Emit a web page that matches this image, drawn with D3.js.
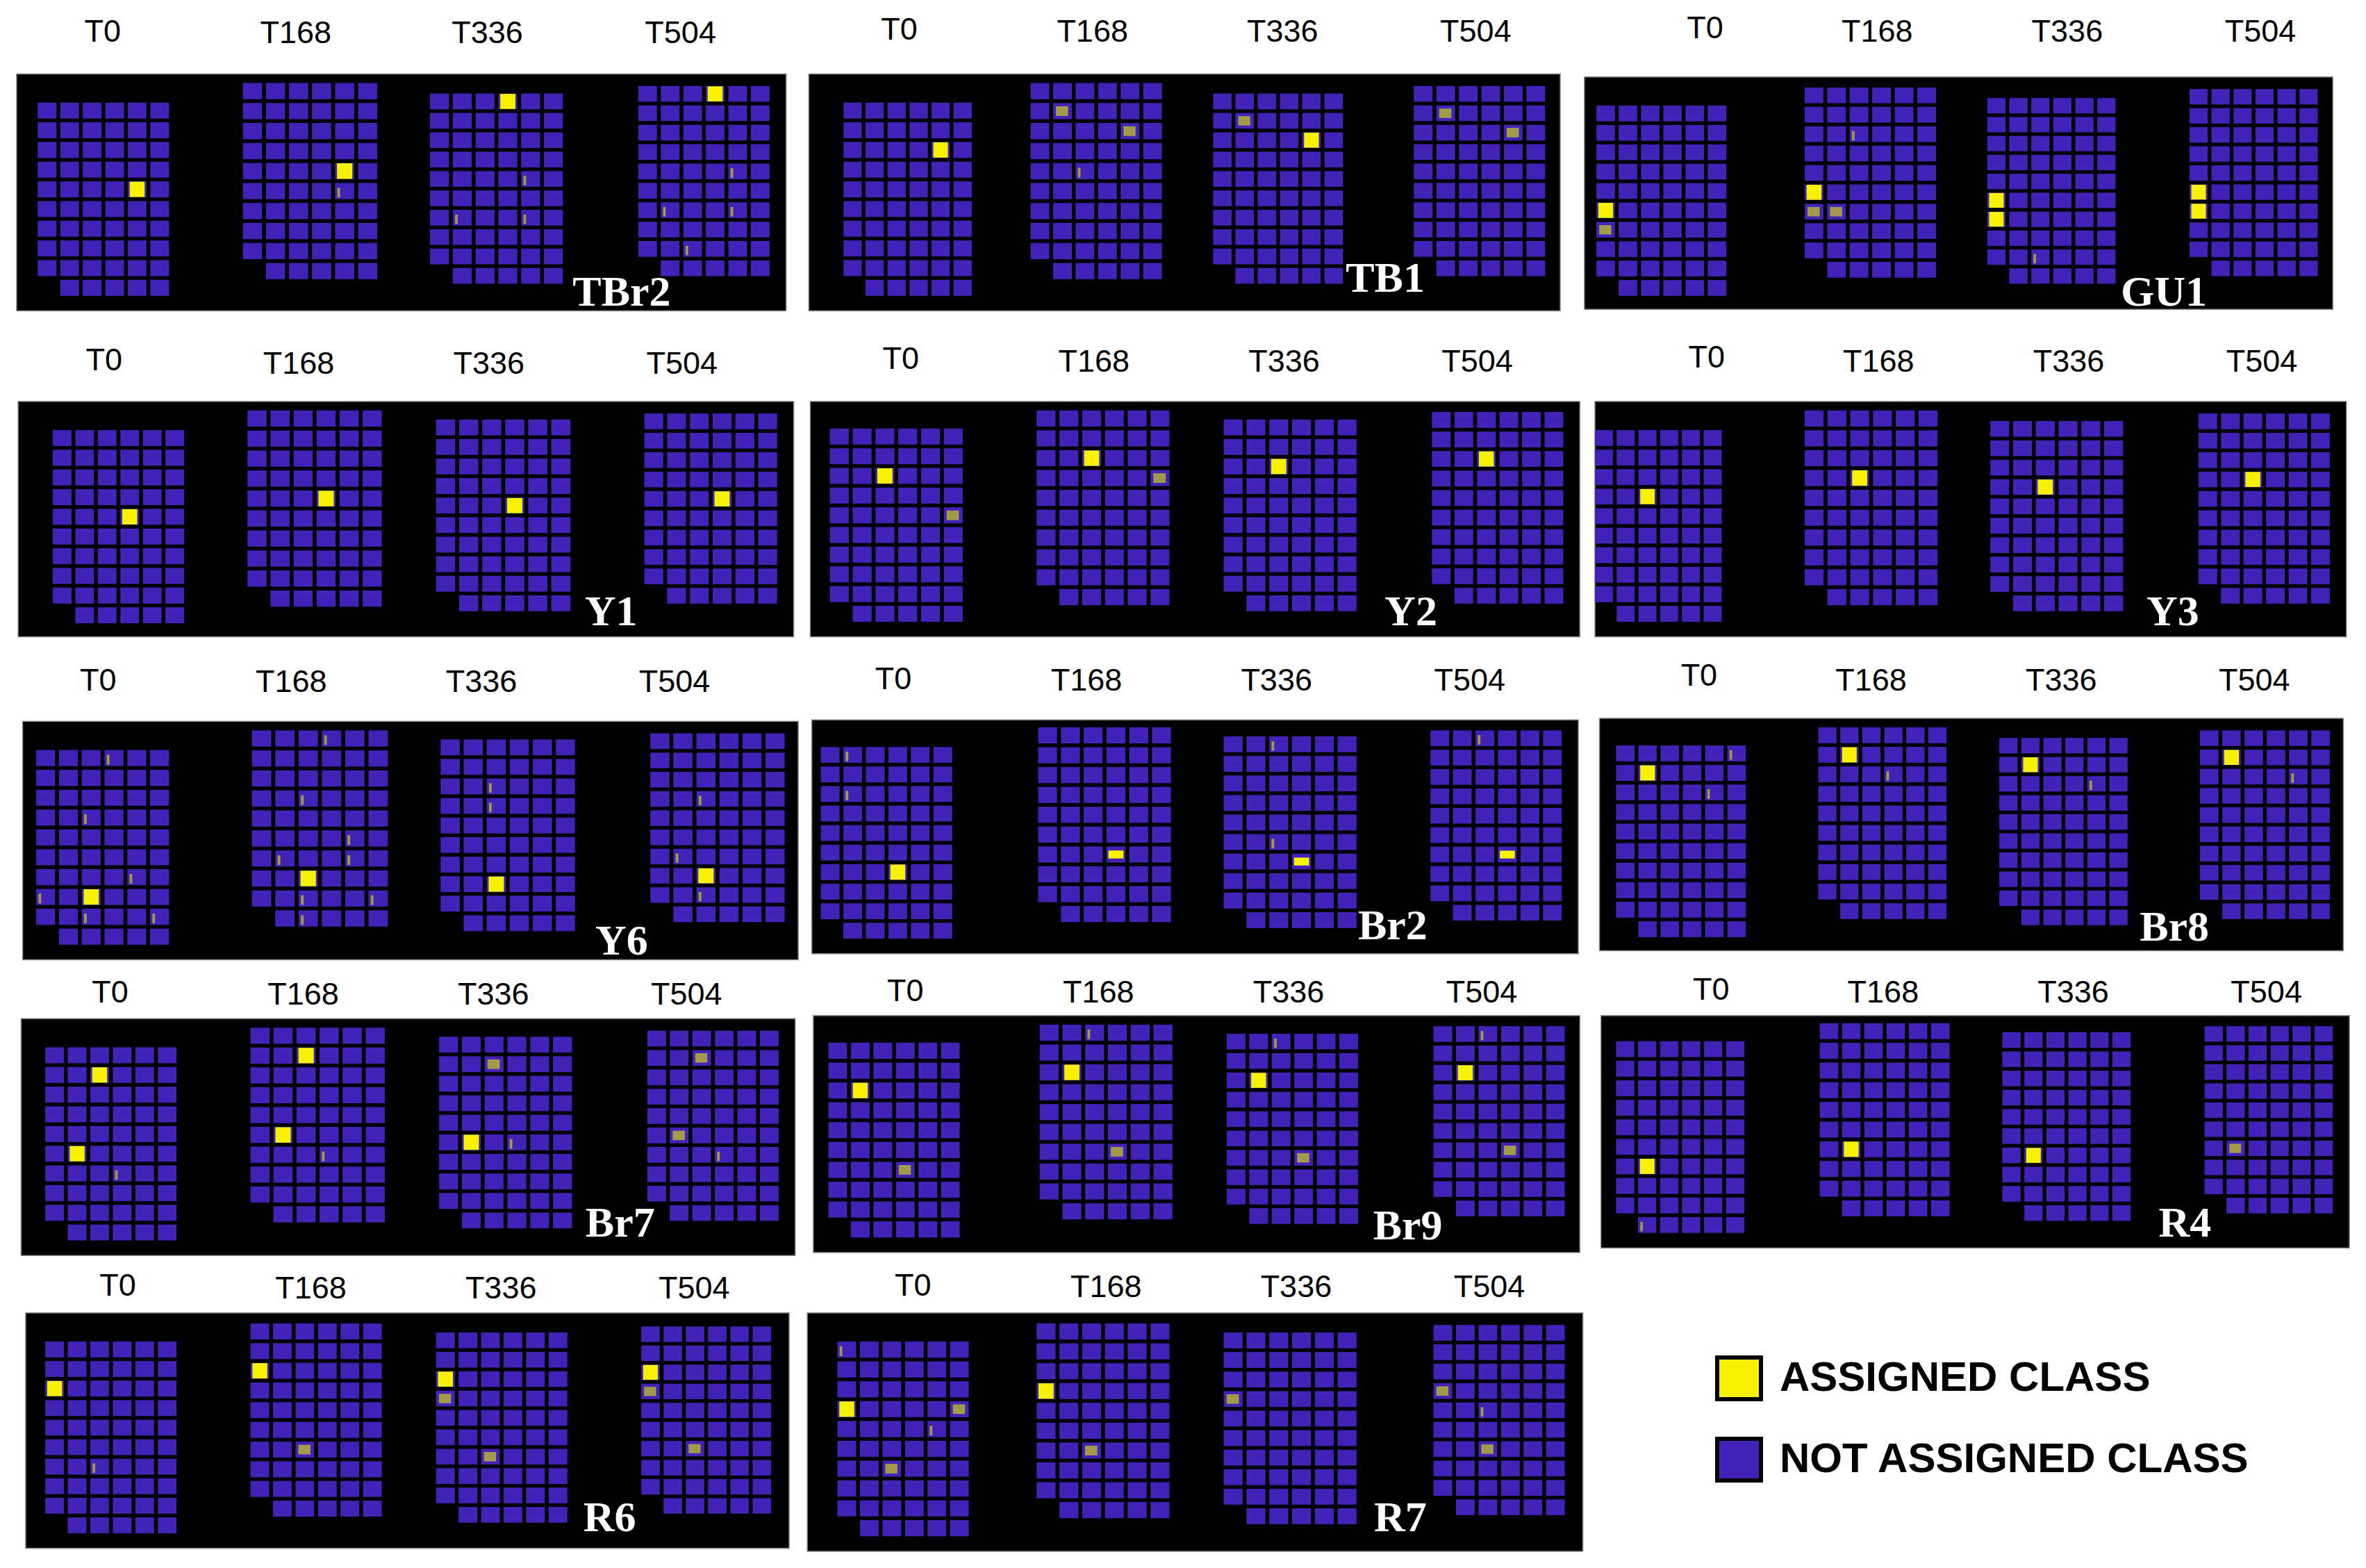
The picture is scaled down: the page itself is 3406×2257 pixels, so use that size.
<!DOCTYPE html>
<html>
<head>
<meta charset="utf-8">
<script src="https://d3js.org/d3.v7.min.js"></script>
<style>
  body { margin: 0; background: #fff; }
  text { font-family: "Liberation Sans", Arial, sans-serif; }
</style>
</head>
<body>
<div id="chart"></div>
<script>
// ---- data ----
const timeLabels = ["T0", "T168", "T336", "T504"];
const panelNames = ["TBr2", "TB1", "GU1", "Y1", "Y2", "Y3", "Y6", "Br2", "Br8", "Br7", "Br9", "R4", "R6", "R7"];
const rowIndex = d3.range(10);
const colIndex = d3.range(6);
const legendLabels = ["ASSIGNED CLASS", "NOT ASSIGNED CLASS"];

// cells as [row, col], one list per time point, one block per panel
const assigned = [
  [[[4,4]], [[4,4]], [[0,3]], [[0,3]]],
  [[[2,4]], [], [[2,4]], []],
  [[[5,0]], [[5,0]], [[5,0],[6,0]], [[5,0],[6,0]]],
  [[[4,3]], [[4,3]], [[4,3]], [[4,3]]],
  [[[2,2]], [[2,2]], [[2,2]], [[2,2]]],
  [[[3,2]], [[3,2]], [[3,2]], [[3,2]]],
  [[[7,2]], [[7,2]], [[7,2]], [[7,2]]],
  [[[6,3]], [], [], []],
  [[[1,1]], [[1,1]], [[1,1]], [[1,1]]],
  [[[1,2],[5,1]], [[1,2],[5,1]], [[5,1]], []],
  [[[2,1]], [[2,1]], [[2,1]], [[2,1]]],
  [[[6,1]], [[6,1]], [[6,1]], []],
  [[[2,0]], [[2,0]], [[2,0]], [[2,0]]],
  [[[3,0]], [[3,0]], [], []]
];
// cells with a low yellow band only
const banded = [
  [[], [], [], []],
  [[], [], [], []],
  [[], [], [], []],
  [[], [], [], []],
  [[], [], [], []],
  [[], [], [], []],
  [[], [], [], []],
  [[], [[6,3]], [[6,3]], [[6,3]]],
  [[], [], [], []],
  [[], [], [], []],
  [[], [], [], []],
  [[], [], [], []],
  [[], [], [], []],
  [[], [], [], []]
];
// partly yellow cells
const weak = [
  [[], [], [], []],
  [[], [[2,4],[1,1]], [[1,1]], [[2,4],[1,1]]],
  [[[6,0]], [[6,0],[6,1]], [], []],
  [[], [], [], []],
  [[[4,5]], [[3,5]], [], []],
  [[], [], [], []],
  [[], [], [], []],
  [[], [], [], []],
  [[], [], [], []],
  [[], [], [[1,2]], [[1,2],[5,1]]],
  [[[6,3]], [[6,3]], [[6,3]], [[6,3]]],
  [[], [], [], [[6,1]]],
  [[], [[6,2]], [[3,0],[6,2]], [[3,0],[6,2]]],
  [[[3,5],[6,2]], [[6,2]], [[3,0]], [[3,0],[6,2]]]
];
// cells with only a thin trace of yellow
const flecks = [
  [[], [[5,4]], [[6,1],[6,4],[4,4]], [[6,1],[6,4],[8,2],[4,4]]],
  [[], [[4,2]], [], []],
  [[], [[2,2]], [[8,2]], []],
  [[], [], [], []],
  [[], [], [], []],
  [[], [], [], []],
  [[[0,3],[3,2],[6,4],[8,2],[8,5],[7,0]], [[0,3],[3,2],[5,4],[6,1],[6,4],[8,2],[8,5],[9,2]], [[2,2],[3,2]], [[3,2],[6,1],[8,2]]],
  [[[0,1],[2,1]], [], [[0,2],[5,2]], [[0,2]]],
  [[[2,4],[0,5]], [[2,3]], [[2,4]], [[2,4]]],
  [[[6,3]], [[6,3]], [[5,3]], [[6,3]]],
  [[], [[0,2]], [[0,2]], [[0,2]]],
  [[[9,1]], [], [], []],
  [[[6,2]], [], [], []],
  [[[0,0],[4,4]], [], [], [[4,2]]]
];

// ---- layout of the collage, in units of a 1568 wide sheet ----
const frames = [
  [11,49,521,206],[536,49,1034,206],[1050,51,1546,205],
  [12,266,526,422],[537,266,1047,422],[1057,266,1555,422],
  [15,478,529,636],[538,477,1046,632],[1060,476,1553,630],
  [14,675,527,832],[539,673,1047,830],[1061,673,1557,827],
  [17,870,523,1026],[535,870,1049,1028]
];
const grids = [
  [[25,112,68,196],[161,250,55,185],[285,373,62,188],[423,510,57,183]],
  [[559,644,68,196],[683,770,55,185],[804,890,62,188],[937,1024,57,183]],
  [[1058,1144,70,196],[1196,1283,58,184],[1317,1402,65,188],[1451,1536,59,183]],
  [[35,122,285,413],[164,253,272,402],[289,378,278,405],[427,515,274,400]],
  [[550,638,284,412],[687,775,272,401],[811,899,278,405],[949,1036,273,400]],
  [[1057,1141,285,412],[1196,1284,272,401],[1319,1407,279,405],[1457,1544,274,400]],
  [[24,112,497,626],[167,257,484,614],[292,381,490,617],[431,520,486,611]],
  [[544,631,495,622],[688,776,482,611],[811,899,488,615],[948,1035,484,610]],
  [[1071,1157,494,621],[1205,1290,482,609],[1325,1410,489,613],[1458,1544,484,609]],
  [[30,117,694,822],[166,255,681,810],[291,379,687,814],[429,516,683,809]],
  [[549,636,691,820],[689,777,679,808],[813,900,685,811],[950,1037,680,806]],
  [[1071,1156,690,817],[1206,1292,678,806],[1327,1412,684,809],[1461,1546,680,804]],
  [[30,117,889,1016],[166,253,877,1005],[289,376,883,1009],[425,511,879,1003]],
  [[555,642,889,1018],[687,775,877,1006],[811,899,883,1010],[950,1037,878,1004]]
];
const timeX = [
  [68,196,323,451],[596,724,850,978],[1130,1244,1370,1498],
  [69,198,324,452],[597,725,851,979],[1131,1245,1371,1499],
  [65,193,319,447],[592,720,846,974],[1126,1240,1366,1494],
  [73,201,327,455],[600,728,854,982],[1134,1248,1374,1502],
  [78,206,332,460],[605,733,859,987]
];
const timeY = [
  [20,21,21,21],[19,20,20,20],[18,20,20,20],
  [238,240,240,240],[237,239,239,239],[236,239,239,239],
  [450,451,451,451],[449,450,450,450],[447,450,450,450],
  [657,658,658,658],[656,657,657,657],[655,657,657,657],
  [851,853,853,853],[851,852,852,852]
];
const nameAt = [
  [412,193],[918,184],[1434,193],[405,405],[935,405],[1440,405],[412,623],
  [923,613],[1441,614],[411,810],[933,812],[1448,810],[404,1005],[928,1005]
];

const W = 3406, H = 2257;
const blue = "#4323b7", yellow = "#f6f200", olive = "#a39a4c";
const px = d3.scaleLinear().domain([0, 1568]).range([0, W]);

const svg = d3.select("#chart").append("svg")
    .attr("width", W)
    .attr("height", H)
    .style("display", "block");

panelNames.forEach(function(name, p) {
  const f = frames[p];
  const panel = svg.append("g").attr("class", "panel");

  panel.append("rect")
      .attr("x", px(f[0]))
      .attr("y", px(f[1]))
      .attr("width", px(f[2] - f[0]))
      .attr("height", px(f[3] - f[1]))
      .attr("fill", "#000")
      .attr("stroke", "#8a8a8a")
      .attr("stroke-width", 1.5);

  timeLabels.forEach(function(label, t) {
    const g = grids[p][t];
    const x = d3.scaleBand().domain(colIndex).range([px(g[0]), px(g[1])]).paddingInner(0.17);
    const y = d3.scaleBand().domain(rowIndex).range([px(g[2]), px(g[3])]).paddingInner(0.19);

    // all cells of the plate, the last row has no first cell
    const cells = d3.cross(rowIndex, colIndex).filter(function(d) {
      return !(d[0] === 9 && d[1] === 0);
    });

    panel.append("g").selectAll("rect")
      .data(cells)
      .enter().append("rect")
        .attr("x", function(d) { return x(d[1]); })
        .attr("y", function(d) { return y(d[0]); })
        .attr("width", x.bandwidth())
        .attr("height", y.bandwidth())
        .attr("fill", blue);

    // thin yellow traces
    panel.append("g").selectAll("rect")
      .data(flecks[p][t])
      .enter().append("rect")
        .attr("x", function(d) { return x(d[1]) + x.bandwidth() * 0.12; })
        .attr("y", function(d) { return y(d[0]) + y.bandwidth() * 0.3; })
        .attr("width", x.bandwidth() * 0.14)
        .attr("height", y.bandwidth() * 0.6)
        .attr("fill", olive);

    // partly yellow cells
    panel.append("g").selectAll("rect")
      .data(weak[p][t])
      .enter().append("rect")
        .attr("x", function(d) { return x(d[1]) + x.bandwidth() * 0.15; })
        .attr("y", function(d) { return y(d[0]) + y.bandwidth() * 0.2; })
        .attr("width", x.bandwidth() * 0.65)
        .attr("height", y.bandwidth() * 0.6)
        .attr("fill", olive);

    // low yellow bands
    panel.append("g").selectAll("rect")
      .data(banded[p][t])
      .enter().append("rect")
        .attr("x", function(d) { return x(d[1]) + x.bandwidth() * 0.1; })
        .attr("y", function(d) { return y(d[0]) + y.bandwidth() * 0.25; })
        .attr("width", x.bandwidth() * 0.8)
        .attr("height", y.bandwidth() * 0.5)
        .attr("fill", yellow);

    // assigned cells
    panel.append("g").selectAll("rect")
      .data(assigned[p][t])
      .enter().append("rect")
        .attr("x", function(d) { return x(d[1]) + x.bandwidth() * 0.1; })
        .attr("y", function(d) { return y(d[0]) + y.bandwidth() * 0.02; })
        .attr("width", x.bandwidth() * 0.8)
        .attr("height", y.bandwidth() * 0.96)
        .attr("fill", yellow);

    svg.append("text")
        .attr("x", px(timeX[p][t]))
        .attr("y", px(timeY[p][t]))
        .attr("dy", "0.36em")
        .attr("text-anchor", "middle")
        .attr("font-size", 45)
        .attr("fill", "#000")
        .text(label);
  });

  panel.append("text")
      .attr("x", px(nameAt[p][0]))
      .attr("y", px(nameAt[p][1]))
      .attr("dy", "0.33em")
      .attr("text-anchor", "middle")
      .attr("font-size", 62)
      .attr("font-weight", "bold")
      .style("font-family", "'Liberation Serif', serif")
      .attr("fill", "#fff")
      .text(name);
});

// legend
const legend = svg.append("g").attr("class", "legend");
const legendY = d3.scalePoint().domain(legendLabels).range([1984, 2101]);
const legendFill = d3.scaleOrdinal().domain(legendLabels).range([yellow, blue]);

legend.selectAll("rect")
  .data(legendLabels)
  .enter().append("rect")
    .attr("x", 2472)
    .attr("y", function(d) { return legendY(d) - 30; })
    .attr("width", 63)
    .attr("height", 60)
    .attr("fill", legendFill)
    .attr("stroke", "#000")
    .attr("stroke-width", 6);

legend.selectAll("text")
  .data(legendLabels)
  .enter().append("text")
    .attr("x", 2562)
    .attr("y", function(d) { return legendY(d) + 18; })
    .attr("font-size", 60)
    .attr("font-weight", "bold")
    .attr("fill", "#000")
    .text(function(d) { return d; });
</script>
</body>
</html>
